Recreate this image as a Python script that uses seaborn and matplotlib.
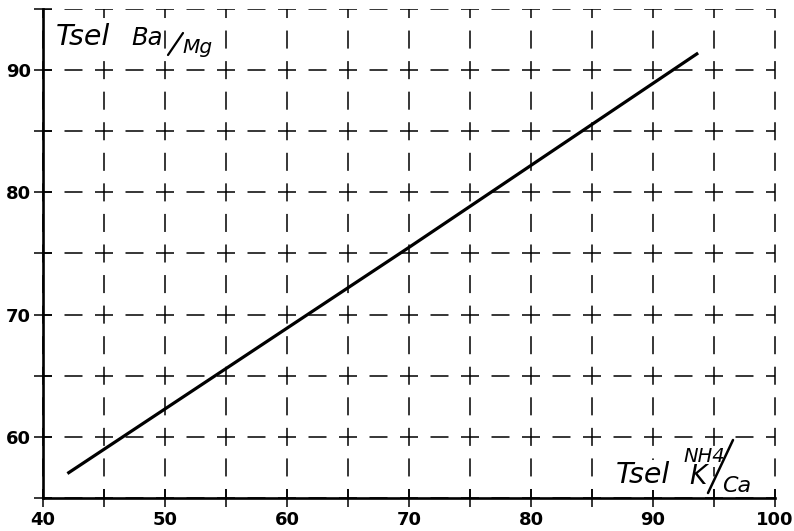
import matplotlib
matplotlib.use('Agg')
import matplotlib.pyplot as plt
import seaborn as sns
import pandas as pd
from matplotlib.ticker import MultipleLocator
from matplotlib.lines import Line2D

# Datos
tsel_k_ca = [42.0, 70.0, 93.7]
tsel_ba_mg = [57.0, 75.5, 91.4]
x_ticks = [40, 50, 60, 70, 80, 90, 100]
y_ticks = [60, 70, 80, 90]

df = pd.DataFrame({'x': tsel_k_ca, 'y': tsel_ba_mg})

sns.set_style('ticks')
plt.rcParams['font.family'] = ['DejaVu Sans']
plt.rcParams['lines.scale_dashes'] = False
plt.rcParams['text.color'] = 'black'
plt.rcParams['xtick.labelcolor'] = 'black'
plt.rcParams['ytick.labelcolor'] = 'black'

W, H, DPI = 794, 531, 100
fig = plt.figure(figsize=(W / DPI, H / DPI), dpi=DPI)
L, R, T, B = 43, 775, 9, 498
ax = fig.add_axes([L / W, 1 - B / H, (R - L) / W, (B - T) / H])

sns.lineplot(data=df, x='x', y='y', ax=ax, color='black', linewidth=2.3,
             solid_capstyle='butt', zorder=5)

ax.set_xlim(40, 100)
ax.set_ylim(55, 95)
ax.xaxis.set_minor_locator(MultipleLocator(5))
ax.yaxis.set_minor_locator(MultipleLocator(5))
ax.set_xticks(x_ticks)
ax.set_yticks(y_ticks)
ax.set_xlabel('')
ax.set_ylabel('')

# rejilla discontinua con cruces en cada interseccion
def cross_dash(period_px):
    k = period_px / 61.0 * 72.0 / DPI
    cross, gap, dash = 18 * k, 12.5 * k, 18 * k
    return (cross / 2, (cross, gap, dash, gap))

px_x = 5 * (R - L) / 60
px_y = 5 * (B - T) / 40
ax.xaxis.grid(True, which='both', color='black', linewidth=1.1,
              linestyle=cross_dash(px_y))
ax.yaxis.grid(True, which='both', color='black', linewidth=1.1,
              linestyle=cross_dash(px_x))
for gl in ax.get_xgridlines() + ax.get_ygridlines():
    gl.set_clip_on(False)

for s in ['top', 'right']:
    ax.spines[s].set_visible(False)
for s in ['left', 'bottom']:
    ax.spines[s].set_linewidth(1.9)
    ax.spines[s].set_color('black')

ax.tick_params(which='both', direction='inout', length=13, width=1.1,
               color='black')
ax.tick_params(axis='both', labelsize=13, pad=2)
for lab in ax.get_xticklabels() + ax.get_yticklabels():
    lab.set_fontweight('bold')
ax.tick_params(axis='x', pad=3)

# textos de los ejes (fondo blanco, tapan la rejilla como en el original)
def ft(x, y, s, size, **kw):
    fig.text(x / W, 1 - y / H, s, fontsize=size, style='italic',
             color='black', ha='left', va='baseline', zorder=8,
             bbox=dict(facecolor='white', edgecolor='none', pad=1), **kw)

def slash(x0, y0, x1, y1, lw):
    fig.add_artist(Line2D([x0 / W, x1 / W], [1 - y0 / H, 1 - y1 / H],
                          color='black', linewidth=lw, zorder=10))

ft(56, 45, 'Tsel', 20.5)
ft(131, 45, 'Ba', 17.5)
ft(182, 53, 'Mg', 14.5)
slash(168, 55, 183, 33, 1.6)

ft(616, 483, 'Tsel', 20.5)
ft(683, 462, 'NH4', 14)
ft(689, 484, 'K', 19)
ft(722, 492, 'Ca', 16)
slash(708, 493, 733, 440, 1.8)

fig.savefig('out.png', dpi=DPI)
